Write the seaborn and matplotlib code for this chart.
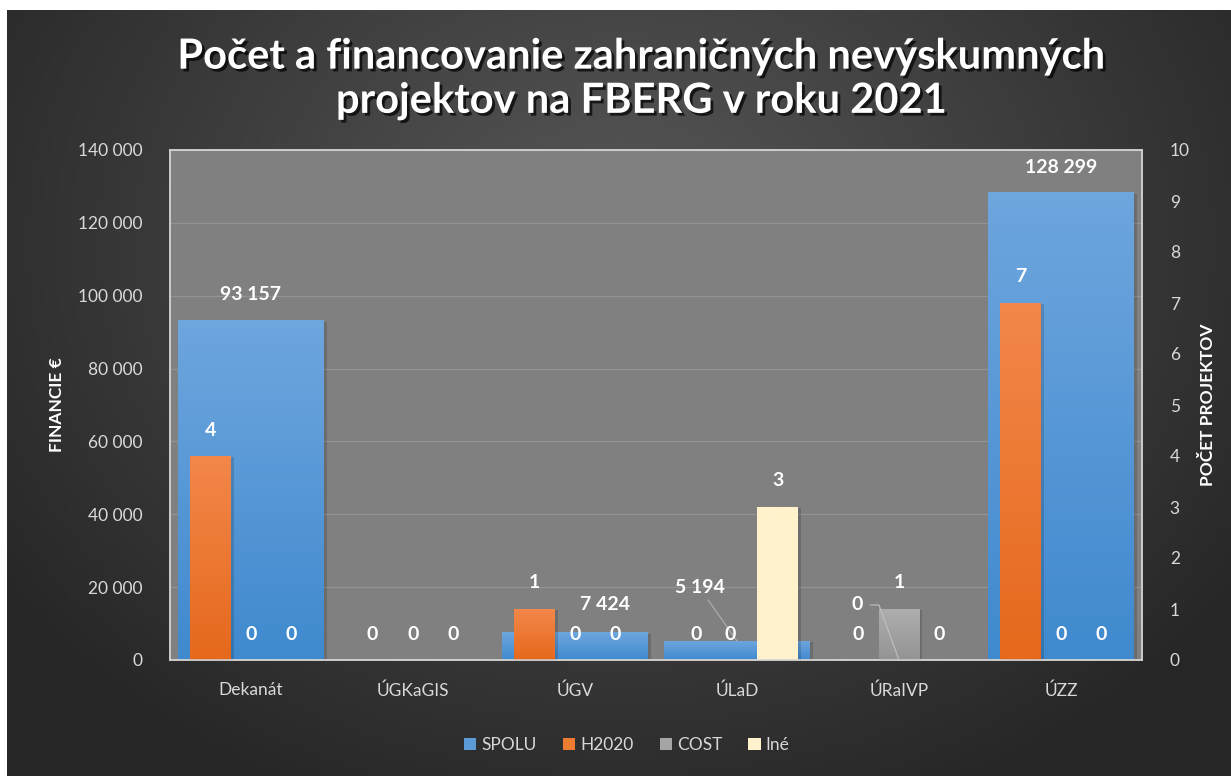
import numpy as np
import pandas as pd
import matplotlib
matplotlib.use("Agg")
import matplotlib.pyplot as plt
import matplotlib.patheffects as pe
from matplotlib.patches import Patch
import seaborn as sns

# ---------------- data ----------------
categories = ["Dekanát", "ÚGKaGIS", "ÚGV", "ÚLaD", "ÚRaIVP", "ÚZZ"]
spolu = [93157, 0, 7424, 5194, 0, 128299]          # financie € (primary axis)
h2020 = [4, 0, 1, 0, 0, 7]                          # počet projektov (secondary)
cost = [0, 0, 0, 0, 1, 0]
ine = [0, 0, 0, 3, 0, 0]
series_names = ["H2020", "COST", "Iné"]
left_ticks = [0, 20000, 40000, 60000, 80000, 100000, 120000, 140000]
right_ticks = list(range(0, 11))

title = "Počet a financovanie zahraničných nevýskumných\nprojektov na FBERG v roku 2021"

# ---------------- style ----------------
sns.set_theme(style="white")
FONT = ["Lato", "DejaVu Sans"]
plt.rcParams["font.family"] = FONT

TXT = "#d9d9d9"
col_blue = "#5b9bd5"
col_orange = "#ed7d31"
col_gray = "#a5a5a5"
col_ine = "#fff2cc"
grad = {
    col_blue: ((0.43, 0.65, 0.87), (0.25, 0.54, 0.81)),
    col_orange: ((0.95, 0.53, 0.29), (0.90, 0.41, 0.11)),
    col_gray: ((0.68, 0.68, 0.68), (0.58, 0.58, 0.58)),
    col_ine: ((1.0, 0.95, 0.80), (1.0, 0.95, 0.80)),
}

W, H = 1231, 776
fig = plt.figure(figsize=(W / 100, H / 100), dpi=100, facecolor="white")

# background with radial gradient
bg = fig.add_axes([7 / W, 0, 1 - 7 / W, 1 - 10 / H], zorder=-5)
yy, xx = np.mgrid[0:200, 0:300]
cx, cy = 150, 60
r = np.sqrt(((xx - cx) / 150) ** 2 + ((yy - cy) / 130) ** 2)
r = np.clip(r / 1.25, 0, 1)
c0, c1 = np.array([88, 88, 88]) / 255, np.array([38, 38, 38]) / 255
img = c0[None, None, :] * (1 - r[..., None]) + c1[None, None, :] * r[..., None]
bg.imshow(img, aspect="auto", extent=[0, 1, 0, 1], origin="upper")
bg.set_axis_off()

ax = fig.add_axes([170 / W, 1 - 660 / H, (1142 - 170) / W, (660 - 150) / H])
ax.set_facecolor("#808080")
ax2 = ax.twinx()

# primary: SPOLU bars
df1 = pd.DataFrame({"cat": categories, "val": spolu})
sns.barplot(data=df1, x="cat", y="val", ax=ax, color=col_blue, width=0.9,
            saturation=1, order=categories, zorder=2)

# secondary: counts
df2 = pd.DataFrame({
    "cat": categories * 3,
    "series": sum([[s] * len(categories) for s in series_names], []),
    "val": h2020 + cost + ine,
})
sns.barplot(data=df2, x="cat", y="val", hue="series", ax=ax2, order=categories,
            hue_order=series_names, palette=[col_orange, col_gray, col_ine],
            width=0.75, saturation=1, legend=False, zorder=2, dodge=True)


def gradientize(a):
    for p in list(a.patches):
        h = p.get_height()
        if h <= 0:
            continue
        fc = matplotlib.colors.to_hex(p.get_facecolor())
        top, bot = grad.get(fc, ((0.5, 0.5, 0.5), (0.5, 0.5, 0.5)))
        t = np.linspace(0, 1, 64)[:, None]
        arr = np.array(top)[None, None, :] * (1 - t[..., None]) + np.array(bot)[None, None, :] * t[..., None]
        x0 = p.get_x()
        p.set_facecolor("none")
        p.set_edgecolor("none")
        p.set_path_effects([pe.SimplePatchShadow(offset=(2, -1), shadow_rgbFace="black", alpha=0.15)])
        a.imshow(arr, extent=[x0, x0 + p.get_width(), 0, h], aspect="auto",
                 origin="upper", zorder=p.get_zorder() + 0.1, interpolation="bilinear")


gradientize(ax)
gradientize(ax2)

ax.set_xlim(-0.5, len(categories) - 0.5)
ax2.set_xlim(-0.5, len(categories) - 0.5)
ax.set_ylim(0, 140000)
ax2.set_ylim(0, 10)
ax.set_yticks(left_ticks)
ax.set_yticklabels([f"{v:,}".replace(",", " ") for v in left_ticks])
ax2.set_yticks(right_ticks)
ax2.set_yticklabels([str(v) for v in right_ticks])

ax.yaxis.grid(True, color="#939393", lw=0.9, zorder=0)
ax.set_axisbelow(True)
ax.set_xlabel("")
ax.set_ylabel("")
ax2.set_ylabel("")
ax2.set_xlabel("")
for a in (ax, ax2):
    a.tick_params(axis="both", length=0, labelcolor=TXT, labelsize=12.5)
    for s in a.spines.values():
        s.set_color("#d0d0d0")
        s.set_linewidth(1.1)
ax.tick_params(axis="y", pad=20)
ax2.tick_params(axis="y", pad=20)
ax.tick_params(axis="x", pad=16)
ax2.set_facecolor("none")

# ---------------- data labels ----------------
lab_kw = dict(color="white", fontsize=14, fontweight="bold", ha="center", va="center",
              textcoords="offset pixels", annotation_clip=False)
fmt = lambda v: f"{v:,}".replace(",", " ")

# SPOLU labels (primary axis)
spolu_offsets = {0: (0, 26), 2: (30, 28), 5: (0, 25)}
for i, v in enumerate(spolu):
    if i in spolu_offsets:
        ax.annotate(fmt(v), xy=(i, v), xytext=spolu_offsets[i], **lab_kw)
# ÚLaD with leader line
i = categories.index("ÚLaD")
ax.annotate(fmt(spolu[i]), xy=(i, spolu[i]), xytext=(-37, 54),
            arrowprops=dict(arrowstyle="-", color="#b0b0b0", lw=0.8, shrinkA=1, shrinkB=0,
                            relpos=(0.6, 0.0)), **lab_kw)
# ÚRaIVP with leader line (drawn on top axis so it crosses the COST bar)
i = categories.index("ÚRaIVP")
ax2.annotate(fmt(spolu[i]), xy=(i, spolu[i] * 10 / 140000), xytext=(-42, 55),
             arrowprops=dict(arrowstyle="-", color="#c0c0c0", lw=0.8, shrinkA=3, shrinkB=0,
                             relpos=(1.0, 0.5), connectionstyle="angle,angleA=0,angleB=110,rad=0"),
             zorder=5, **lab_kw)

# count labels (secondary axis)
offs = [-0.25, 0.0, 0.25]
for k, vals in enumerate([h2020, cost, ine]):
    for i, v in enumerate(vals):
        dx = 0
        if categories[i] == "ÚLaD" and series_names[k] == "COST":
            dx = -7
        ax2.annotate(str(v), xy=(i + offs[k], v), xytext=(dx, 26), **lab_kw)

# ---------------- texts ----------------
fig.text(641 / W, 1 - 79 / H, title, ha="center", va="center", color="white",
         fontsize=30, fontweight="bold", linespacing=1.2, family=FONT,
         path_effects=[pe.withSimplePatchShadow(offset=(2, -2), shadow_rgbFace="black", alpha=0.7)])
fig.text(57 / W, 1 - 405 / H, "FINANCIE €", rotation=90, ha="center", va="center",
         color="white", fontsize=12.5, fontweight="bold")
fig.text(1208 / W, 1 - 405 / H, "POČET PROJEKTOV", rotation=90, ha="center", va="center",
         color="white", fontsize=12.5, fontweight="bold")

handles = [Patch(facecolor=c, edgecolor="none", label=n)
           for c, n in zip([col_blue, col_orange, col_gray, col_ine], ["SPOLU"] + series_names)]
fig.legend(handles=handles, loc="center", bbox_to_anchor=(627 / W, 1 - 745 / H), ncol=4,
           frameon=False, fontsize=12.5, labelcolor=TXT, handlelength=0.7, handleheight=0.7,
           handletextpad=0.3, columnspacing=1.5)

fig.savefig("out.png", dpi=100, facecolor="white")
